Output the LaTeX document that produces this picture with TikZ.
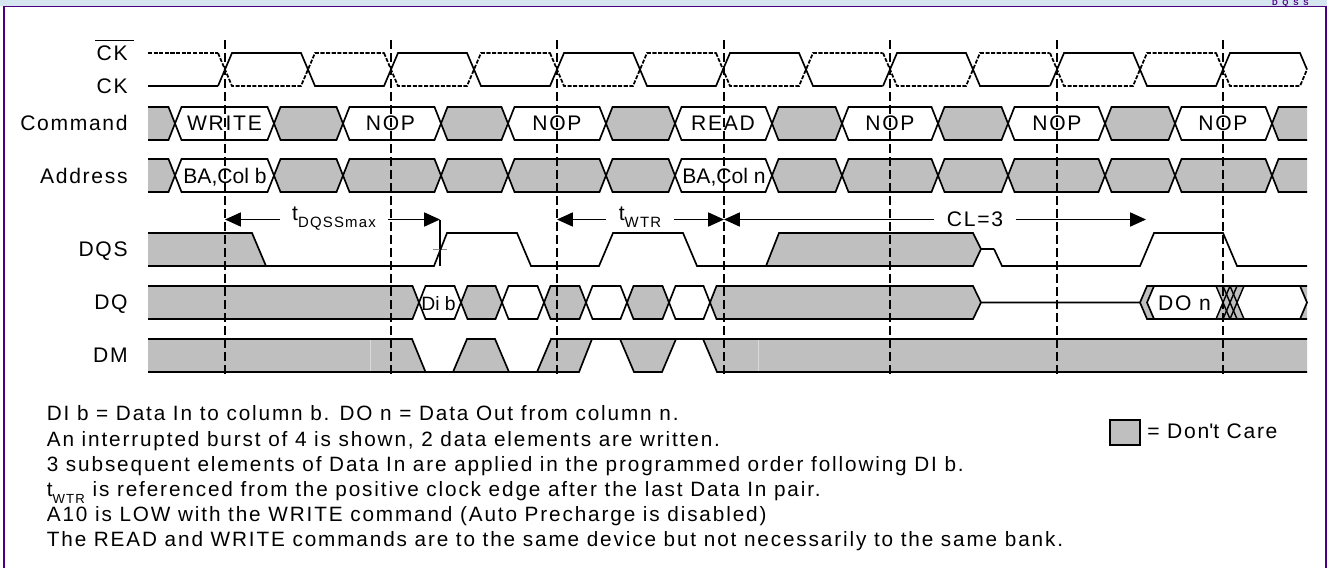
\documentclass[tikz,border=0pt]{standalone}
\usepackage{fontspec}
\setmainfont{Liberation Sans}[LetterSpace=8]
\newfontfamily\tightfont{Liberation Sans}
\newfontfamily\notefont[LetterSpace=9]{Liberation Sans}
\newfontfamily\partfont[LetterSpace=60]{Liberation Sans}
\usetikzlibrary{arrows.meta}
\definecolor{care}{HTML}{BFBFBF}
\definecolor{framecol}{HTML}{4B0082}
\definecolor{stripcol}{HTML}{D6E6F0}
\tikzset{
	sig/.style={line width=0.95pt,line join=miter},
	clk/.style={sig,line width=1pt,dash pattern=on 2.3pt off 0.9pt},
	edge/.style={dash pattern=on 5pt off 2.4pt,line width=0.9pt},
	timing/.style={line width=0.75pt,-{Triangle[length=9pt,width=8pt]}},
	lbl/.style={inner sep=0pt,font=\fontsize{12}{14}\selectfont},
	tight/.style={inner sep=0pt,font=\tightfont\fontsize{12}{14}\selectfont},
	gap/.style={inner sep=7pt,font=\fontsize{12}{14}\selectfont}
}
\newcommand{\hexbit}[5]{\path[sig,#1] (#2,{(#4+#5)/2}) -- ({#2+6.5},#4) -- ({#3-6.5},#4) -- (#3,{(#4+#5)/2}) -- ({#3-6.5},#5) -- ({#2+6.5},#5) -- cycle;}
\newcommand{\tsub}[2]{t\raisebox{-0.7ex}{\fontsize{#1}{10}\selectfont #2}}
\begin{document}
\begin{tikzpicture}[x=0.02cm,y=-0.02cm]
	\useasboundingbox (0,0) rectangle (1327,568);
	\fill[stripcol] (0,0) rectangle (1327,6);
	\node[anchor=base east,inner sep=0pt,text=framecol,font=\partfont\fontsize{4.5}{5}\selectfont\bfseries] (part) at (1309,5.5) {DQSS};
	\draw[framecol,line width=1.1pt] (4,568) -- (4,6.5) -- (1326,6.5) -- (1326,568);

	\node[lbl,anchor=base east] (ckbar) at (128,60) {CK};
	\draw[line width=0.4pt] (95,40) -- (134,40);
	\node[lbl,anchor=base east] (ck) at (128,93) {CK};
	\node[lbl,anchor=base east] (command) at (128,130) {Command};
	\node[lbl,anchor=base east] (address) at (128,183) {Address};
	\node[lbl,anchor=base east] (dqs) at (128,256) {DQS};
	\node[lbl,anchor=base east] (dq) at (128,309) {DQ};
	\node[lbl,anchor=base east] (dm) at (128,362) {DM};

	\draw[clk] (148,53) -- (218,53);
	\draw[sig] (148,86) -- (218,86);
	\foreach \x in {225,391,557,723,890,1057} {
		\draw[sig] (\x-7,86) -- (\x+7,53) -- (\x+76,53) -- (\x+90,86) -- (\x+159.5,86);
		\draw[clk] (\x-7,53) -- (\x+7,86) -- (\x+76,86) -- (\x+90,53) -- (\x+159.5,53);
	}
	\draw[sig] (1216,86) -- (1230,53) -- (1300,53) -- (1307,69.5);
	\draw[clk] (1216,53) -- (1230,86) -- (1300,86) -- (1307,69.5);

	\foreach \y in {107,159} {
		\fill[care] (148,\y) -- (168.5,\y) -- (175,\y+16.5) -- (168.5,\y+33) -- (148,\y+33) -- cycle;
		\draw[sig] (148,\y) -- (168.5,\y) -- (175,\y+16.5) -- (168.5,\y+33) -- (148,\y+33);
		\fill[care] (1307,\y) -- (1278.5,\y) -- (1272,\y+16.5) -- (1278.5,\y+33) -- (1307,\y+33) -- cycle;
		\draw[sig] (1307,\y) -- (1278.5,\y) -- (1272,\y+16.5) -- (1278.5,\y+33) -- (1307,\y+33);
		\foreach \a/\b in {274/343,441/508,606/675,772/842,938/1008,1105/1175} {
			\hexbit{draw,fill=care}{\a}{\b}{\y}{\y+33}
		}
	}
	\foreach \a/\b in {175/274,343/441,508/606,675/772,842/938,1008/1105,1175/1272} {
		\hexbit{draw}{\a}{\b}{107}{140}
	}
	\hexbit{draw}{175}{274}{159}{192}
	\hexbit{draw}{675}{772}{159}{192}
	\foreach \a/\b in {343/441,508/606,842/938,1008/1105,1175/1272} {
		\hexbit{draw,fill=care}{\a}{\b}{159}{192}
	}
	\node[lbl,anchor=base] (write) at (224.5,130) {WRITE};
	\node[lbl,anchor=base] (nopa) at (390.5,130) {NOP};
	\node[lbl,anchor=base] (nopb) at (557,130) {NOP};
	\node[lbl,anchor=base] (read) at (723,130) {READ};
	\node[lbl,anchor=base] (nopc) at (890,130) {NOP};
	\node[lbl,anchor=base] (nopd) at (1057,130) {NOP};
	\node[lbl,anchor=base] (nope) at (1223,130) {NOP};
	\node[tight,anchor=base] (colb) at (225,183) {BA,Col b};
	\node[tight,anchor=base] (coln) at (724,183) {BA,Col n};

	\coordinate (tclka) at (225,219.5);
	\coordinate (tstrb) at (440,219.5);
	\coordinate (tclkb) at (557,219.5);
	\coordinate (tclkc) at (724,219.5);
	\coordinate (tout) at (1146,219.5);
	\node[gap,anchor=base] (tdqss) at (334,220) {\tsub{8.5}{DQSSmax}};
	\node[gap,anchor=base] (twtr) at (640,220) {\tsub{8.5}{WTR}};
	\node[gap,anchor=base] (cl) at (975,226) {CL=3};
	\draw[timing] (tdqss.west |- tclka) -- (tclka);
	\draw[timing] (tdqss.east |- tclka) -- (tstrb);
	\draw[timing] (twtr.west |- tclkb) -- (tclkb);
	\draw[timing] (twtr.east |- tclkb) -- (tclkc);
	\draw[timing] (cl.west |- tclkc) -- (tclkc);
	\draw[timing] (cl.east |- tclkc) -- (tout);
	\draw[line width=0.7pt] (tstrb) -- (440,266);
	\draw[black!45,line width=0.5pt] (433,249) -- (447,249);

	\fill[care] (148,233) -- (252,233) -- (266,266) -- (148,266) -- cycle;
	\draw[sig] (148,233) -- (252,233) -- (266,266) -- (434,266) -- (447,233) -- (517,233) -- (531,266) -- (599,266) -- (613,233) -- (683,233) -- (697,266) -- (766,266);
	\fill[care] (766,266) -- (779,233) -- (973,233) -- (981,249) -- (973,266) -- cycle;
	\draw[sig] (148,266) -- (266,266);
	\draw[sig] (994,249) -- (981,249) -- (973,233) -- (779,233) -- (766,266) -- (973,266) -- (981,249);
	\draw[sig] (994,249) -- (1002,266) -- (1140,266) -- (1154,233) -- (1223,233) -- (1237,266) -- (1307,266);

	\fill[care] (148,286) -- (412.5,286) -- (419,302.5) -- (412.5,319) -- (148,319) -- cycle;
	\draw[sig] (148,286) -- (412.5,286) -- (419,302.5) -- (412.5,319) -- (148,319);
	\foreach \a/\b in {419/461,502/544,586/627,669/710} {
		\hexbit{draw}{\a}{\b}{286}{319}
	}
	\foreach \a/\b in {461/502,544/586,627/669} {
		\hexbit{draw,fill=care}{\a}{\b}{286}{319}
	}
	\fill[care] (973,286) -- (716.5,286) -- (710,302.5) -- (716.5,319) -- (973,319) -- (981,302.5) -- cycle;
	\draw[sig] (981,302.5) -- (973,286) -- (716.5,286) -- (710,302.5) -- (716.5,319) -- (973,319) -- (981,302.5) -- (1140,302.5);
	\fill[care] (1140,302.5) -- (1147,286) -- (1154,286) -- (1147,302.5) -- (1154,319) -- (1147,319) -- cycle;
	\draw[sig] (1154,286) -- (1147,302.5) -- (1154,319);
	\fill[care] (1216,286) -- (1244,286) -- (1237,302.5) -- (1244,319) -- (1216,319) -- (1223,302.5) -- cycle;
	\foreach \x in {1216,1223,1230} {
		\draw[line width=0.8pt] (\x,286) -- (\x+14,319);
		\draw[line width=0.8pt] (\x+14,286) -- (\x,319);
	}
	\fill[care] (1300,286) -- (1307,286) -- (1307,302.5) -- (1307,319) -- (1300,319) -- (1307,302.5) -- cycle;
	\draw[sig] (1140,302.5) -- (1147,286) -- (1307,286);
	\draw[sig] (1140,302.5) -- (1147,319) -- (1307,319);
	\draw[sig] (1300,286) -- (1307,302.5) -- (1300,319);
	\node[inner sep=0pt,anchor=base,font=\tightfont\fontsize{11}{13}\selectfont] (dib) at (438.5,310) {Di b};
	\node[lbl,anchor=base] (don) at (1184.5,310) {DO n};

	\fill[care] (148,339) -- (412,339) -- (425.5,372) -- (148,372) -- cycle;
	\draw[white!85!black,line width=0.4pt] (370,339) -- (370,372);
	\draw[sig] (148,339) -- (412,339) -- (425.5,372) -- (148,372);
	\draw[sig,fill=care] (453,372) -- (467,339) -- (495,339) -- (509,372) -- cycle;
	\draw[sig] (425,372) -- (453,372);
	\draw[sig] (509,372) -- (537,372);
	\fill[care] (537,372) -- (551,339) -- (592,339) -- (579,372) -- cycle;
	\fill[care] (620,339) -- (676,339) -- (662,372) -- (634,372) -- cycle;
	\fill[care] (703,339) -- (1307,339) -- (1307,372) -- (717,372) -- cycle;
	\draw[white!85!black,line width=0.4pt] (758,339) -- (758,372);
	\draw[sig] (537,372) -- (551,339) -- (1307,339);
	\draw[sig] (537,372) -- (579,372) -- (592,339);
	\draw[sig] (620,339) -- (634,372) -- (662,372) -- (676,339);
	\draw[sig] (703,339) -- (717,372) -- (1307,372);

	\foreach \x in {225,391,557,724,890,1057,1223} {
		\draw[edge] (\x,40) -- (\x,378);
	}

	\node[anchor=north west,inner sep=0pt,align=left,font=\notefont\fontsize{11.8}{14.3}\selectfont] (notes) at (46.5,405.5) {DI b = Data In to column b. DO n = Data Out from column n.\\
	An interrupted burst of 4 is shown, 2 data elements are written.\\
	3 subsequent elements of Data In are applied in the programmed order following DI b.\\
	\tsub{7.5}{WTR} is referenced from the positive clock edge after the last Data In pair.\\
	A10 is LOW with the WRITE command (Auto Precharge is disabled)\\
	The READ and WRITE commands are to the same device but not necessarily to the same bank.};
	\node[draw,fill=care,line width=1.1pt,inner sep=0pt,minimum width=17.5pt,minimum height=14.5pt] (carebox) at (1125,432.5) {};
	\node[lbl,anchor=base west] (carenote) at (1147,438) {= Don\textquotesingle t Care};
\end{tikzpicture}
\end{document}
